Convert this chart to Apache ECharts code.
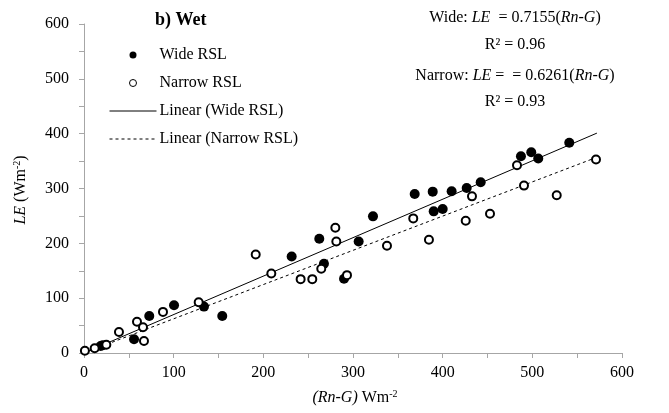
<!DOCTYPE html>
<html><head><meta charset="utf-8">
<script src="https://cdn.jsdelivr.net/npm/echarts@6/dist/echarts.min.js"></script>
<style>html,body{margin:0;padding:0;background:#fff}#c{width:669px;height:413px}</style>
</head><body><div id="c"></div>
<script>
var wideRSL = [[18.6,12.8],[21,14],[55.8,25],[72.8,67.6],[100.4,87],[133.8,84.6],[154.2,67.6],[231.6,176],[262.4,208.4],[267.6,162.7],[290,135.3],[306.3,203.5],[322.3,249.2],[368.8,290.1],[388.9,294.3],[390,258.3],[400,262.7],[410,294.9],[426.8,301],[442.4,311.3],[487.3,358.9],[498.8,366.2],[506.6,354.7],[541.2,383.4]];
var narrowRSL = [[1,4],[11.9,8.5],[24.9,15.2],[39,38.4],[59.1,57],[65.8,47],[66.9,22],[88.1,75],[127.9,92.6],[191.5,179.7],[208.9,145],[241.6,134.7],[254.6,134.7],[264.6,153.6],[280.3,228.5],[281.4,203.5],[293.3,142],[337.9,195.6],[367.2,245.5],[384.7,206.6],[425.7,241.3],[432.7,285.7],[452.8,254.1],[482.9,342.4],[490.7,305.3],[527.2,287.6],[571,352.8]];
var wideFit = [[0,0],[572,401]];
var narrowFit = [[0,0],[572,357]];
var xTicks = [0,100,200,300,400,500,600];
var yTicks = [0,100,200,300,400,500,600];

var FONT = 'Liberation Serif';
var chart = echarts.init(document.getElementById('c'));
var axisCol = '#a6a6a6';
chart.setOption({
  animation:false,
  textStyle:{fontFamily:FONT},
  grid:{left:84,right:47,top:24,bottom:60},
  xAxis:{type:'value',min:0,max:600,interval:100,
    axisLine:{show:true,lineStyle:{color:axisCol,width:1}},
    axisTick:{show:true,inside:false,length:5,lineStyle:{color:axisCol}},
    minorTick:{show:true,splitNumber:2,length:5,lineStyle:{color:axisCol}},
    splitLine:{show:false},
    axisLabel:{color:'#000',fontSize:16,fontFamily:FONT,margin:12,
      formatter:function(v){return xTicks.indexOf(v)>=0?String(v):'';}}},
  yAxis:{type:'value',min:0,max:600,interval:100,
    axisLine:{show:true,lineStyle:{color:axisCol,width:1}},
    axisTick:{show:true,inside:false,length:5,lineStyle:{color:axisCol}},
    minorTick:{show:true,splitNumber:2,length:5,lineStyle:{color:axisCol}},
    splitLine:{show:false},
    axisLabel:{color:'#000',fontSize:16,fontFamily:FONT,margin:15,
      formatter:function(v){return yTicks.indexOf(v)>=0?String(v):'';}}},
  legend:{orient:'vertical',left:104,top:42,itemWidth:47,itemHeight:7,itemGap:12,
    textStyle:{fontSize:16,fontFamily:FONT,color:'#000',padding:[0,0,0,-2]},
    data:[
      {name:'Wide RSL',icon:'circle',itemStyle:{color:'#000',borderWidth:0}},
      {name:'Narrow RSL',icon:'circle',itemStyle:{color:'#fff',borderColor:'#000',borderWidth:1}},
      {name:'Linear (Wide RSL)',itemStyle:{opacity:0},lineStyle:{color:'#000',width:1,opacity:1}},
      {name:'Linear (Narrow RSL)',itemStyle:{opacity:0},lineStyle:{color:'#000',width:1,type:[3,3],opacity:1}}
    ]},
  series:[
    {name:'Linear (Wide RSL)',type:'line',data:wideFit,symbol:'none',z:1,
      lineStyle:{color:'#000',width:1},itemStyle:{color:'#000'}},
    {name:'Linear (Narrow RSL)',type:'line',data:narrowFit,symbol:'none',z:1,
      lineStyle:{color:'#000',width:1,type:[3,3]},itemStyle:{color:'#000'}},
    {name:'Wide RSL',type:'scatter',data:wideRSL,symbol:'circle',symbolSize:10,z:3,
      itemStyle:{color:'#000',opacity:1}},
    {name:'Narrow RSL',type:'scatter',data:narrowRSL,symbol:'circle',symbolSize:8,z:4,
      itemStyle:{color:'#fff',borderColor:'#000',borderWidth:2,opacity:1}}
  ],
  graphic:[
    {type:'text',left:155,top:11,style:{text:'b) Wet',font:'bold 18px '+FONT,fill:'#000'}},
    {type:'text',x:515,y:18,style:{
      text:'{n|Wide: }{i|LE}{n|  = 0.7155(}{i|Rn-G}{n|)}',align:'center',verticalAlign:'middle',
      rich:{n:{fontSize:16,fontFamily:FONT,fill:'#000'},i:{fontSize:16,fontFamily:FONT,fontStyle:'italic',fill:'#000'}}}},
    {type:'text',x:515,y:45,style:{text:'R\u00b2 = 0.96',align:'center',verticalAlign:'middle',font:'16px '+FONT,fill:'#000'}},
    {type:'text',x:515,y:76,style:{
      text:'{n|Narrow: }{i|LE}{n| =  = 0.6261(}{i|Rn-G}{n|)}',align:'center',verticalAlign:'middle',
      rich:{n:{fontSize:16,fontFamily:FONT,fill:'#000'},i:{fontSize:16,fontFamily:FONT,fontStyle:'italic',fill:'#000'}}}},
    {type:'text',x:515,y:102,style:{text:'R\u00b2 = 0.93',align:'center',verticalAlign:'middle',font:'16px '+FONT,fill:'#000'}},
    {type:'text',x:355,y:398,style:{
      text:'{i|(Rn-G)}{n| Wm}{s|-2}',align:'center',verticalAlign:'middle',
      rich:{n:{fontSize:16,fontFamily:FONT,fill:'#000'},i:{fontSize:16,fontFamily:FONT,fontStyle:'italic',fill:'#000'},
            s:{fontSize:10,fontFamily:FONT,fill:'#000',verticalAlign:'top',padding:[0,0,8,0]}}}},
    {type:'text',x:21,y:190,rotation:Math.PI/2,style:{
      text:'{i|LE}{n| (Wm}{s|-2}{n|)}',align:'center',verticalAlign:'middle',
      rich:{n:{fontSize:16,fontFamily:FONT,fill:'#000'},i:{fontSize:16,fontFamily:FONT,fontStyle:'italic',fill:'#000'},
            s:{fontSize:10,fontFamily:FONT,fill:'#000',verticalAlign:'top',padding:[0,0,8,0]}}}}
  ]
});
</script></body></html>
